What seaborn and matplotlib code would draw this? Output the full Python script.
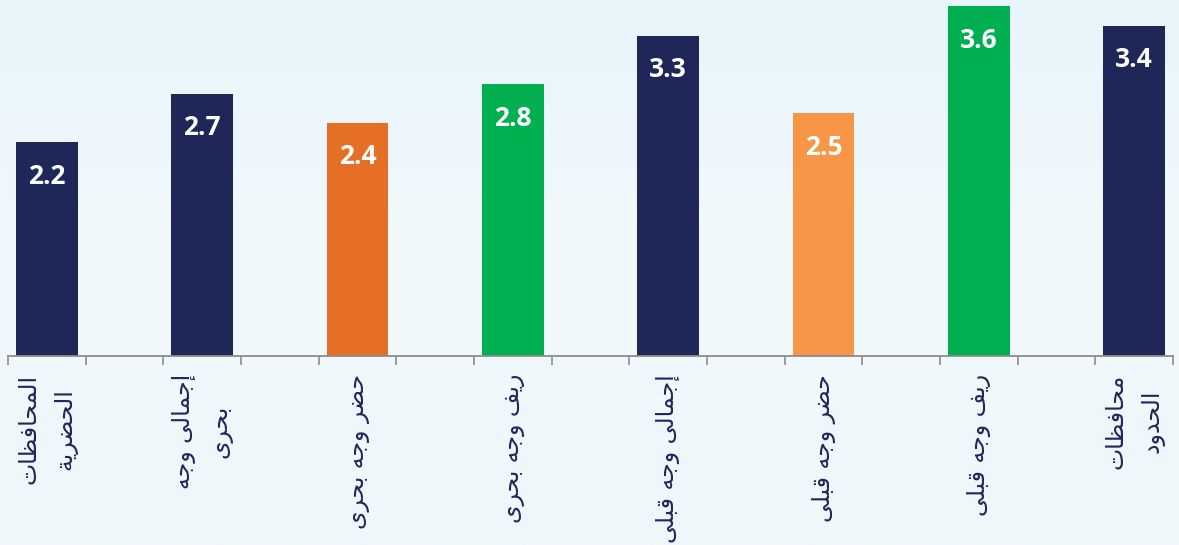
import numpy as np
import pandas as pd
import matplotlib
matplotlib.use("Agg")
import matplotlib.pyplot as plt
import seaborn as sns

# ---------------- data ----------------
categories = [
    "المحافظات\nالحضرية",
    "إجمالى وجه\nبحرى",
    "حضر وجه بحرى",
    "ريف وجه بحرى",
    "إجمالى وجه قبلى",
    "حضر وجه قبلى",
    "ريف وجه قبلى",
    "محافظات\nالحدود",
]
values = [2.2, 2.7, 2.4, 2.8, 3.3, 2.5, 3.6, 3.4]
value_labels = ["2.2", "2.7", "2.4", "2.8", "3.3", "2.5", "3.6", "3.4"]
bar_colors = ["#1f2759", "#1f2759", "#e46f25", "#00b050",
              "#1f2759", "#f79646", "#00b050", "#1f2759"]

# ------------- simple Arabic shaping (matplotlib has no CTL) -------------
FORMS = {  # isolated, final, initial, medial
    "ا": ("\uFE8D", "\uFE8E", None, None),
    "إ": ("\uFE87", "\uFE88", None, None),
    "ب": ("\uFE8F", "\uFE90", "\uFE91", "\uFE92"),
    "ة": ("\uFE93", "\uFE94", None, None),
    "ت": ("\uFE95", "\uFE96", "\uFE97", "\uFE98"),
    "ج": ("\uFE9D", "\uFE9E", "\uFE9F", "\uFEA0"),
    "ح": ("\uFEA1", "\uFEA2", "\uFEA3", "\uFEA4"),
    "د": ("\uFEA9", "\uFEAA", None, None),
    "ر": ("\uFEAD", "\uFEAE", None, None),
    "ض": ("\uFEBD", "\uFEBE", "\uFEBF", "\uFEC0"),
    "ظ": ("\uFEC5", "\uFEC6", "\uFEC7", "\uFEC8"),
    "ف": ("\uFED1", "\uFED2", "\uFED3", "\uFED4"),
    "ق": ("\uFED5", "\uFED6", "\uFED7", "\uFED8"),
    "ل": ("\uFEDD", "\uFEDE", "\uFEDF", "\uFEE0"),
    "م": ("\uFEE1", "\uFEE2", "\uFEE3", "\uFEE4"),
    "ه": ("\uFEE9", "\uFEEA", "\uFEEB", "\uFEEC"),
    "و": ("\uFEED", "\uFEEE", None, None),
    "ى": ("\uFEEF", "\uFEF0", "\uFBE8", "\uFBE9"),
    "ي": ("\uFEF1", "\uFEF2", "\uFEF3", "\uFEF4"),
}


def dual(c):
    return c in FORMS and FORMS[c][2] is not None


def joins(c):
    return c in FORMS


def shape_line(line):
    out = []
    n = len(line)
    for i, c in enumerate(line):
        if c not in FORMS:
            out.append(c)
            continue
        prev_c = line[i - 1] if i > 0 else ""
        next_c = line[i + 1] if i < n - 1 else ""
        p = dual(prev_c)
        nx = dual(c) and joins(next_c)
        iso, fin, ini, med = FORMS[c]
        if p and nx:
            out.append(med)
        elif p:
            out.append(fin)
        elif nx:
            out.append(ini)
        else:
            out.append(iso)
    return "".join(reversed(out))


def shape(text):
    return "\n".join(shape_line(l) for l in text.split("\n"))


# ---------------- figure ----------------
W, H = 1179, 545
fig = plt.figure(figsize=(W / 100, H / 100), dpi=100)

# background gradient
bg = fig.add_axes([0, 0, 1, 1], zorder=0)
top = np.array([232, 245, 251]) / 255
mid = np.array([242, 249, 252]) / 255
bot = np.array([240, 247, 251]) / 255
t = np.linspace(0, 1, 200)[:, None]
grad = np.where(t < 0.5, top + (mid - top) * (t / 0.5), mid + (bot - mid) * ((t - 0.5) / 0.5))
bg.imshow(grad[:, None, :].repeat(2, axis=1), aspect="auto", extent=[0, 1, 0, 1])
bg.set_axis_off()

left = 8 / W
right = 1173 / W
bottom = (H - 356) / H
ax = fig.add_axes([left, bottom, right - left, 1 - bottom], zorder=1)
ax.set_facecolor("none")

pos = np.arange(len(values)) * 2
df = pd.DataFrame({"pos": pos, "value": values, "cat": categories})
sns.barplot(data=df, x="pos", y="value", hue="cat",
            palette=dict(zip(categories, bar_colors)),
            native_scale=True, width=0.395, saturation=1,
            errorbar=None, legend=False, ax=ax)

ax.set_xlim(-0.5, 14.5)
ax.set_ylim(0, 3.666)

for x, v, lab in zip(pos, values, value_labels):
    ax.text(x, v - 0.35, lab, ha="center", va="center", color="white",
            fontsize=19, fontweight="bold", family="Open Sans")

for s in ["top", "left", "right"]:
    ax.spines[s].set_visible(False)
ax.spines["bottom"].set_color("#8c8c8c")
ax.spines["bottom"].set_linewidth(1.3)
ax.set_yticks([])
ax.set_xlabel("")
ax.set_ylabel("")

ax.set_xticks(pos)
ax.set_xticklabels([shape(c) for c in categories], rotation=90,
                   fontsize=17, color="#1f2759", family="DejaVu Sans",
                   ha="center", va="top", multialignment="center",
                   linespacing=1.6)
ax.tick_params(axis="x", which="major", length=0, pad=13)
ax.set_xticks(np.arange(-0.5, 15.0, 1.0), minor=True)
ax.tick_params(axis="x", which="minor", length=6.5, width=1.2, color="#8c8c8c")

fig.savefig("out.png", dpi=100)
